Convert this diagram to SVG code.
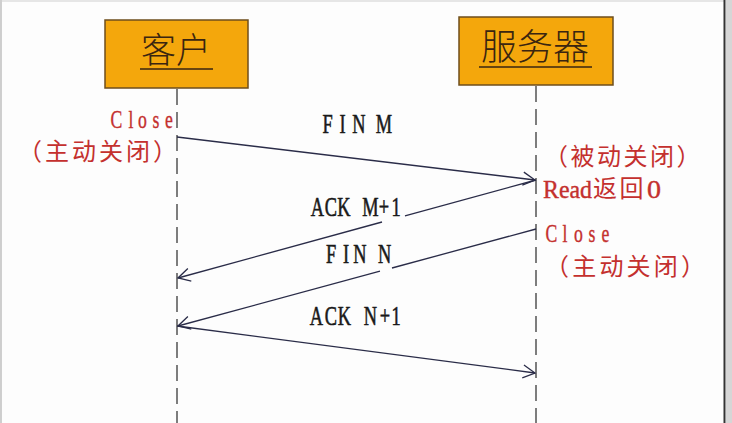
<svg xmlns="http://www.w3.org/2000/svg" width="732" height="423" viewBox="0 0 732 423">
  <style>
    .box { fill: #F4A70C; stroke: #6e4e1c; stroke-width: 1.5; }
    .title { font-family: "Noto Sans CJK SC", sans-serif; font-weight: 300; fill: #3a2510; text-anchor: middle; }
    .uline { stroke: #3a2510; stroke-width: 1.6; }
    .life { stroke: #3a3a3a; stroke-width: 1.3; stroke-dasharray: 16 7; fill: none; }
    .msg { stroke: #2a2c48; stroke-width: 1.3; fill: none; }
    .lbl { font-family: "Liberation Serif", serif; font-size: 27px; fill: #1a1a1a; stroke: #1a1a1a; stroke-width: 0.6; text-anchor: middle; }
    .red { font-family: "Liberation Serif", "Noto Sans CJK SC", serif; font-size: 26px; fill: #C4302E; stroke: #C4302E; stroke-width: 0.4; }
    .redc { text-anchor: middle; }
    .redcjk { font-family: "Noto Sans CJK SC", sans-serif; font-size: 24px; fill: #C4302E; }
  </style>
  <defs>
    <marker id="open" viewBox="-14 -8 16 16" refX="0" refY="0" markerWidth="16" markerHeight="16" markerUnits="userSpaceOnUse" orient="auto">
      <path d="M-12,-6.5 L0,0 L-12,6.5" fill="none" stroke="#2a2c48" stroke-width="1.3"/>
    </marker>
  </defs>

  <rect x="0" y="0" width="732" height="423" fill="#fdfdfd"/>
  <line x1="1" y1="0" x2="1" y2="423" stroke="#b0b0b0" stroke-width="1.2"/>
  <line x1="0" y1="1" x2="724" y2="1" stroke="#d0d0d0" stroke-width="1.2"/>
  <rect x="726" y="0" width="6" height="423" fill="#d6d6d6"/>
  <line x1="724.5" y1="0" x2="724.5" y2="423" stroke="#333" stroke-width="2"/>

  <g id="client">
    <rect class="box" x="105" y="20" width="143" height="68"/>
    <text class="title" x="176" y="63" font-size="35">客户</text>
    <line class="uline" x1="140" y1="69" x2="213" y2="69"/>
    <line class="life" x1="177" y1="89" x2="177" y2="423"/>
  </g>

  <g id="server">
    <rect class="box" x="459" y="17" width="154" height="68"/>
    <text class="title" x="535" y="60" font-size="36">服务器</text>
    <line class="uline" x1="479" y1="67" x2="592" y2="67"/>
    <line class="life" x1="536" y1="86" x2="536" y2="423"/>
  </g>

  <g id="connectors">
    <path class="msg" d="M177,137 L535,180" marker-end="url(#open)"/>
    <path class="msg" d="M536,180 L405,215.8"/>
    <path class="msg" d="M382,222 L178,278" marker-end="url(#open)"/>
    <path class="msg" d="M536,229 L392,268"/>
    <path class="msg" d="M380,271.2 L178,326" marker-end="url(#open)"/>
    <path class="msg" d="M177,326 L535,373" marker-end="url(#open)"/>
  </g>

  <g id="message-labels">
    <text class="lbl" transform="scale(0.68,1)" x="481.62 503.68 527.94 546 564.7" y="133">FIN M</text>
    <text class="lbl" transform="scale(0.68,1)" x="466.91 486.76 505.88 525.74 544.85 564.71 582.35" y="216">ACK M+1</text>
    <text class="lbl" transform="scale(0.68,1)" x="486.76 508.82 529.41 547.06 565.5" y="263">FIN N</text>
    <text class="lbl" transform="scale(0.68,1)" x="465.44 486.76 506.62 525.74 544.85 566.18 582.35" y="325">ACK N+1</text>
  </g>

  <g id="client-notes">
    <text class="red redc" transform="scale(0.68,1)" x="171.32 192.65 209.56 229.41 248.53" y="128">Close</text>
    <text class="redcjk" x="18" y="160" letter-spacing="3">（主动关闭）</text>
  </g>

  <g id="server-notes">
    <text class="redcjk" x="544" y="164.5" letter-spacing="2.5">（被动关闭）</text>
    <text class="red" y="198"><tspan x="543" textLength="49" lengthAdjust="spacingAndGlyphs">Read</tspan><tspan x="593" font-family="Noto Sans CJK SC, sans-serif" font-size="24" stroke-width="0" letter-spacing="2.5" dy="-1">返回</tspan><tspan x="647" dy="1" textLength="14" lengthAdjust="spacingAndGlyphs">0</tspan></text>
    <text class="red redc" transform="scale(0.68,1)" x="811.03 830.88 850.74 870.59 890.44" y="242">Close</text>
    <text class="redcjk" x="545" y="275" letter-spacing="3.2">（主动关闭）</text>
  </g>
</svg>
